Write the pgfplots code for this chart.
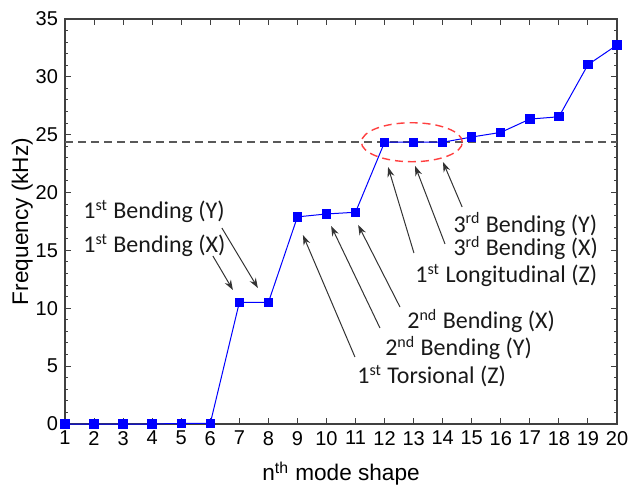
\documentclass[border=0pt]{standalone}
\usepackage{fontspec}
\setmainfont{Liberation Sans}
\newfontfamily\calib{Carlito}
\usepackage{pgfplots}
\pgfplotsset{compat=1.18}
\usetikzlibrary{arrows.meta}
\begin{document}
\begin{tikzpicture}
\begin{axis}[
  at={(32.5pt,31pt)}, anchor=south west,
  scale only axis, width=276pt, height=202.5pt,
  xmin=1, xmax=20, ymin=0, ymax=35,
  xtick={1,...,20}, ytick={0,5,...,35},
  minor y tick num=4,
  tick align=inside,
  major tick length=3pt, minor tick length=1.5pt,
  axis line style={black!75, line width=0.6pt},
  every tick/.style={black!75, line width=0.5pt},
  tick label style={font=\fontsize{10}{12}\selectfont},
  /pgf/number format/assume math mode=true,
  xlabel={n\textsuperscript{th} mode shape},
  ylabel={Frequency (kHz)},
  label style={font=\fontsize{11.3}{13}\selectfont, inner sep=0pt},
  xlabel style={at={(axis description cs:0.5,-0.1407)}, anchor=base},
  ylabel style={at={(axis description cs:-0.067,0.5)}, anchor=base},
  clip=false,
]
\addplot[black!65, line width=0.8pt, dash pattern=on 4pt off 2.5pt] coordinates {(1,24.35) (20,24.35)};
\addplot[blue, line width=0.5pt, mark=square*, mark size=2.1pt, mark options={solid, fill=blue}] coordinates {
(1,0) (2,0) (3,0) (4,0) (5,0.05) (6,0.05) (7,10.5) (8,10.5) (9,17.9) (10,18.15) (11,18.3)
(12,24.35) (13,24.35) (14,24.35) (15,24.8) (16,25.2) (17,26.35) (18,26.55) (19,31.05) (20,32.75)};
\draw[red!75, line width=0.7pt, dash pattern=on 4pt off 2.5pt] (axis cs:12.94,24.35) ellipse [x radius=25.25pt, y radius=9.75pt];
\begin{scope}[black!80, line width=0.5pt, -{Stealth[length=5pt,width=3.5pt]}]
\draw (axis cs:6.40,16.94) -- (axis cs:7.64,11.75);
\draw (axis cs:6.09,14.52) -- (axis cs:6.78,11.58);
\draw (axis cs:10.98,5.79) -- (axis cs:9.19,16.33);
\draw (axis cs:11.84,8.30) -- (axis cs:10.16,17.11);
\draw (axis cs:12.53,10.11) -- (axis cs:11.09,17.2);
\draw (axis cs:13.01,14.78) -- (axis cs:12.12,22.21);
\draw (axis cs:14.08,15.56) -- (axis cs:13.05,22.30);
\draw (axis cs:14.67,18.75) -- (axis cs:14.01,22.64);
\end{scope}
\begin{scope}[every node/.style={anchor=base west, inner sep=0pt, font=\calib\fontsize{12}{14}\selectfont, text=black!90}]
\node at (axis cs:1.62,17.72) {1\textsuperscript{st} Bending (Y)};
\node at (axis cs:1.62,14.78) {1\textsuperscript{st} Bending (X)};
\node at (axis cs:14.36,16.59) {3\textsuperscript{rd} Bending (Y)};
\node at (axis cs:14.36,14.52) {3\textsuperscript{rd} Bending (X)};
\node at (axis cs:13.05,12.19) {1\textsuperscript{st} Longitudinal (Z)};
\node at (axis cs:12.77,8.21) {2\textsuperscript{nd} Bending (X)};
\node at (axis cs:12.01,5.88) {2\textsuperscript{nd} Bending (Y)};
\node at (axis cs:11.05,3.46) {1\textsuperscript{st} Torsional (Z)};
\end{scope}
\end{axis}
\pgfresetboundingbox
\path (0,0) rectangle (315pt,243pt);
\end{tikzpicture}
\end{document}
